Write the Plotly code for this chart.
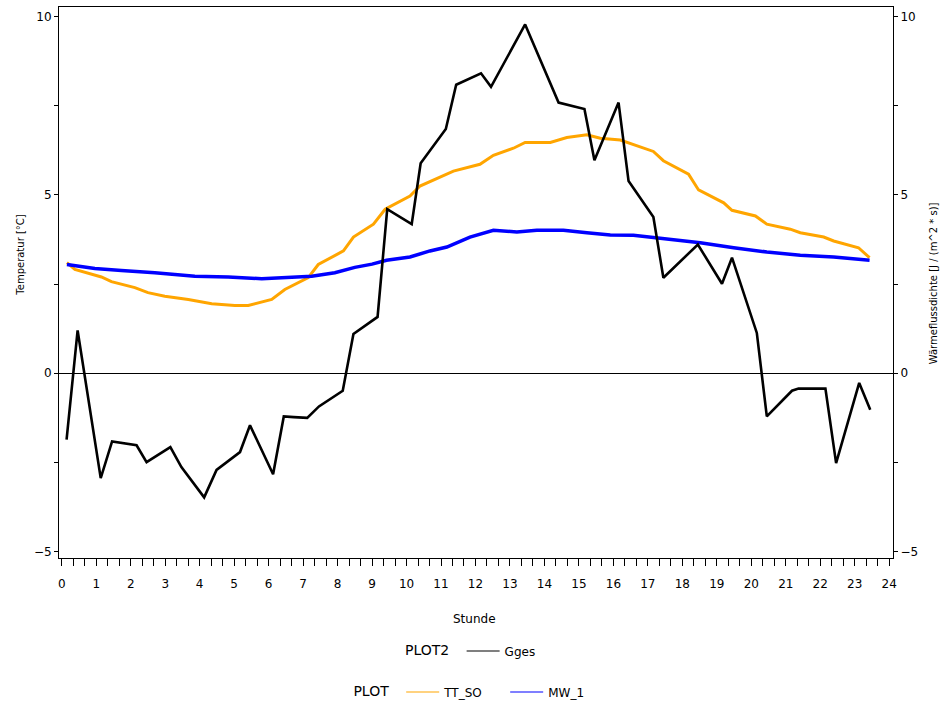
import plotly.graph_objects as go

# Gges (PLOT2, right axis)
gges_x = [0.14, 0.46, 1.13, 1.46, 2.17, 2.46, 3.15, 3.47, 4.13, 4.49, 5.17, 5.46, 6.13, 6.44, 6.73,
          7.12, 7.46, 8.15, 8.46, 9.16, 9.44, 10.15, 10.41, 11.14, 11.44, 12.16, 12.45, 13.44, 14.41,
          15.16, 15.45, 16.15, 16.44, 17.16, 17.45, 17.79, 18.45, 19.15, 19.44, 20.16, 20.45, 21.18,
          21.37, 22.15, 22.46, 23.13, 23.45]
gges_y = [-1.86, 1.2, -2.94, -1.91, -2.02, -2.49, -2.07, -2.63, -3.48, -2.71, -2.21, -1.46, -2.83, -1.21,
          -1.23, -1.25, -0.93, -0.49, 1.10, 1.58, 4.60, 4.18, 5.89, 6.85, 8.09, 8.41, 8.03, 9.78, 7.59,
          7.41, 5.97, 7.59, 5.39, 4.38, 2.68, 3.0, 3.61, 2.51, 3.24, 1.13, -1.21, -0.49, -0.43, -0.43,
          -2.52, -0.27, -1.02]

# TT_SO (PLOT, left axis)
tt_x = [0.15, 0.38, 1.15, 1.44, 2.12, 2.50, 2.99, 3.67, 4.35, 5.02, 5.41, 6.09, 6.47, 7.15, 7.44, 7.85,
        8.17, 8.46, 9.04, 9.38, 10.10, 10.39, 11.36, 12.13, 12.52, 13.10, 13.44, 14.17, 14.65, 15.23,
        15.62, 16.20, 17.16, 17.45, 18.18, 18.47, 19.20, 19.44, 20.12, 20.45, 21.13, 21.42, 22.10,
        22.39, 23.11, 23.43]
tt_y = [3.10, 2.91, 2.70, 2.57, 2.40, 2.26, 2.16, 2.07, 1.95, 1.90, 1.90, 2.07, 2.35, 2.68, 3.05, 3.26,
        3.43, 3.82, 4.18, 4.60, 4.97, 5.25, 5.67, 5.86, 6.11, 6.31, 6.47, 6.47, 6.61, 6.69, 6.59, 6.54,
        6.22, 5.96, 5.58, 5.14, 4.78, 4.57, 4.41, 4.18, 4.04, 3.94, 3.82, 3.71, 3.52, 3.24]

# MW_1 (PLOT, left axis)
mw_x = [0.15, 0.96, 1.73, 2.70, 3.86, 4.83, 5.80, 6.57, 7.25, 7.92, 8.5, 9.0, 9.42, 10.10, 10.68, 11.17,
        11.84, 12.52, 13.20, 13.78, 14.55, 15.23, 15.91, 16.58, 17.55, 18.52, 19.49, 20.45, 21.42,
        22.39, 23.43]
mw_y = [3.05, 2.94, 2.88, 2.82, 2.72, 2.70, 2.65, 2.70, 2.72, 2.82, 2.97, 3.06, 3.17, 3.26, 3.43, 3.54,
        3.82, 4.01, 3.96, 4.01, 4.01, 3.94, 3.88, 3.87, 3.77, 3.66, 3.52, 3.40, 3.31, 3.26, 3.17]

x_ticks = list(range(0, 25))
y_ticks = [-5, 0, 5, 10]

ORANGE = "#FFA500"
BLUE = "#0000FF"
FONT = "DejaVu Sans"

W, H = 941, 705
PL, PR, PT, PB = 59.3, 892.7, 7.0, 558.0   # plot area in page pixels
PW, PHh = PR - PL, PB - PT


def px(xp):
    return (xp - PL) / PW


def py(yp):
    return (PB - yp) / PHh


fig = go.Figure()
fig.add_trace(go.Scatter(x=tt_x, y=tt_y, mode="lines", line=dict(color=ORANGE, width=3),
                         showlegend=False, yaxis="y"))
fig.add_trace(go.Scatter(x=mw_x, y=mw_y, mode="lines", line=dict(color=BLUE, width=3.5),
                         showlegend=False, yaxis="y"))
fig.add_trace(go.Scatter(x=gges_x, y=gges_y, mode="lines", line=dict(color="black", width=2.6),
                         showlegend=False, yaxis="y2"))

# legend-only entries
fig.add_trace(go.Scatter(x=[None], y=[None], mode="lines", name="Gges",
                         line=dict(color="black", width=1.2), legend="legend2"))
fig.add_trace(go.Scatter(x=[None], y=[None], mode="lines", name="TT_SO",
                         line=dict(color=ORANGE, width=1.2), legend="legend"))
fig.add_trace(go.Scatter(x=[None], y=[None], mode="lines", name="MW_1",
                         line=dict(color=BLUE, width=1.2), legend="legend"))

yrange = [-5.18, 10.27]

fig.update_layout(
    width=W, height=H,
    margin=dict(l=PL, r=W - PR, t=PT, b=H - PB, autoexpand=False),
    paper_bgcolor="white", plot_bgcolor="white",
    font=dict(family=FONT, size=12, color="black"),
    xaxis=dict(range=[-0.08, 24.11], tickvals=x_ticks, ticks="outside", ticklen=7, tickwidth=1,
               tickcolor="black", showline=True, linecolor="black", linewidth=1, mirror=True,
               showgrid=False, zeroline=False, ticklabelstandoff=8,
               minor=dict(dtick=1/3, tick0=0, ticks="outside", ticklen=7, tickwidth=1,
                          tickcolor="black", showgrid=False),
               tickfont=dict(size=12, family=FONT)),
    yaxis=dict(range=yrange, tickvals=y_ticks, ticks="outside", ticklen=4, tickwidth=1,
               tickcolor="black", showline=True, linecolor="black", linewidth=1,
               showgrid=False, zeroline=True, zerolinecolor="black", zerolinewidth=1,
               minor=dict(dtick=2.5, tick0=0, ticks="outside", ticklen=4, tickwidth=1,
                          tickcolor="black", showgrid=False),
               tickfont=dict(size=12, family=FONT)),
    yaxis2=dict(range=yrange, overlaying="y", side="right", tickvals=y_ticks, ticks="outside",
                ticklen=4, tickwidth=1, tickcolor="black", showline=True, linecolor="black",
                linewidth=1, showgrid=False, zeroline=False,
                minor=dict(dtick=2.5, tick0=0, ticks="outside", ticklen=4, tickwidth=1,
                           tickcolor="black", showgrid=False),
                tickfont=dict(size=12, family=FONT)),
    legend=dict(orientation="h", title=dict(text="PLOT ", side="left"),
                x=px(351.5), xanchor="left", y=py(692), yanchor="middle", entrywidth=56,
                itemwidth=33, bgcolor="rgba(0,0,0,0)", font=dict(size=12, family=FONT)),
    legend2=dict(orientation="h", title=dict(text="PLOT2 ", side="left"),
                 x=px(403), xanchor="left", y=py(651), yanchor="middle", itemwidth=33,
                 bgcolor="rgba(0,0,0,0)", font=dict(size=12, family=FONT)),
    annotations=[
        dict(text="Stunde", xref="paper", yref="paper", x=px(475), y=py(619),
             showarrow=False, xanchor="center", yanchor="middle", font=dict(size=12, family=FONT)),
        dict(text="Temperatur [°C]", xref="paper", yref="paper", x=px(20),
             y=py(255), textangle=-90, showarrow=False, xanchor="center",
             yanchor="middle", font=dict(size=10, family=FONT)),
        dict(text="Wärmeflussdichte [J / (m^2 * s)]", xref="paper", yref="paper",
             x=px(933), y=py(283), textangle=-90, showarrow=False,
             xanchor="center", yanchor="middle", font=dict(size=10, family=FONT)),
    ],
)

fig.write_html("out.html", config={"displayModeBar": False},
               post_script="document.body.style.margin='0';document.body.style.overflow='hidden';")
